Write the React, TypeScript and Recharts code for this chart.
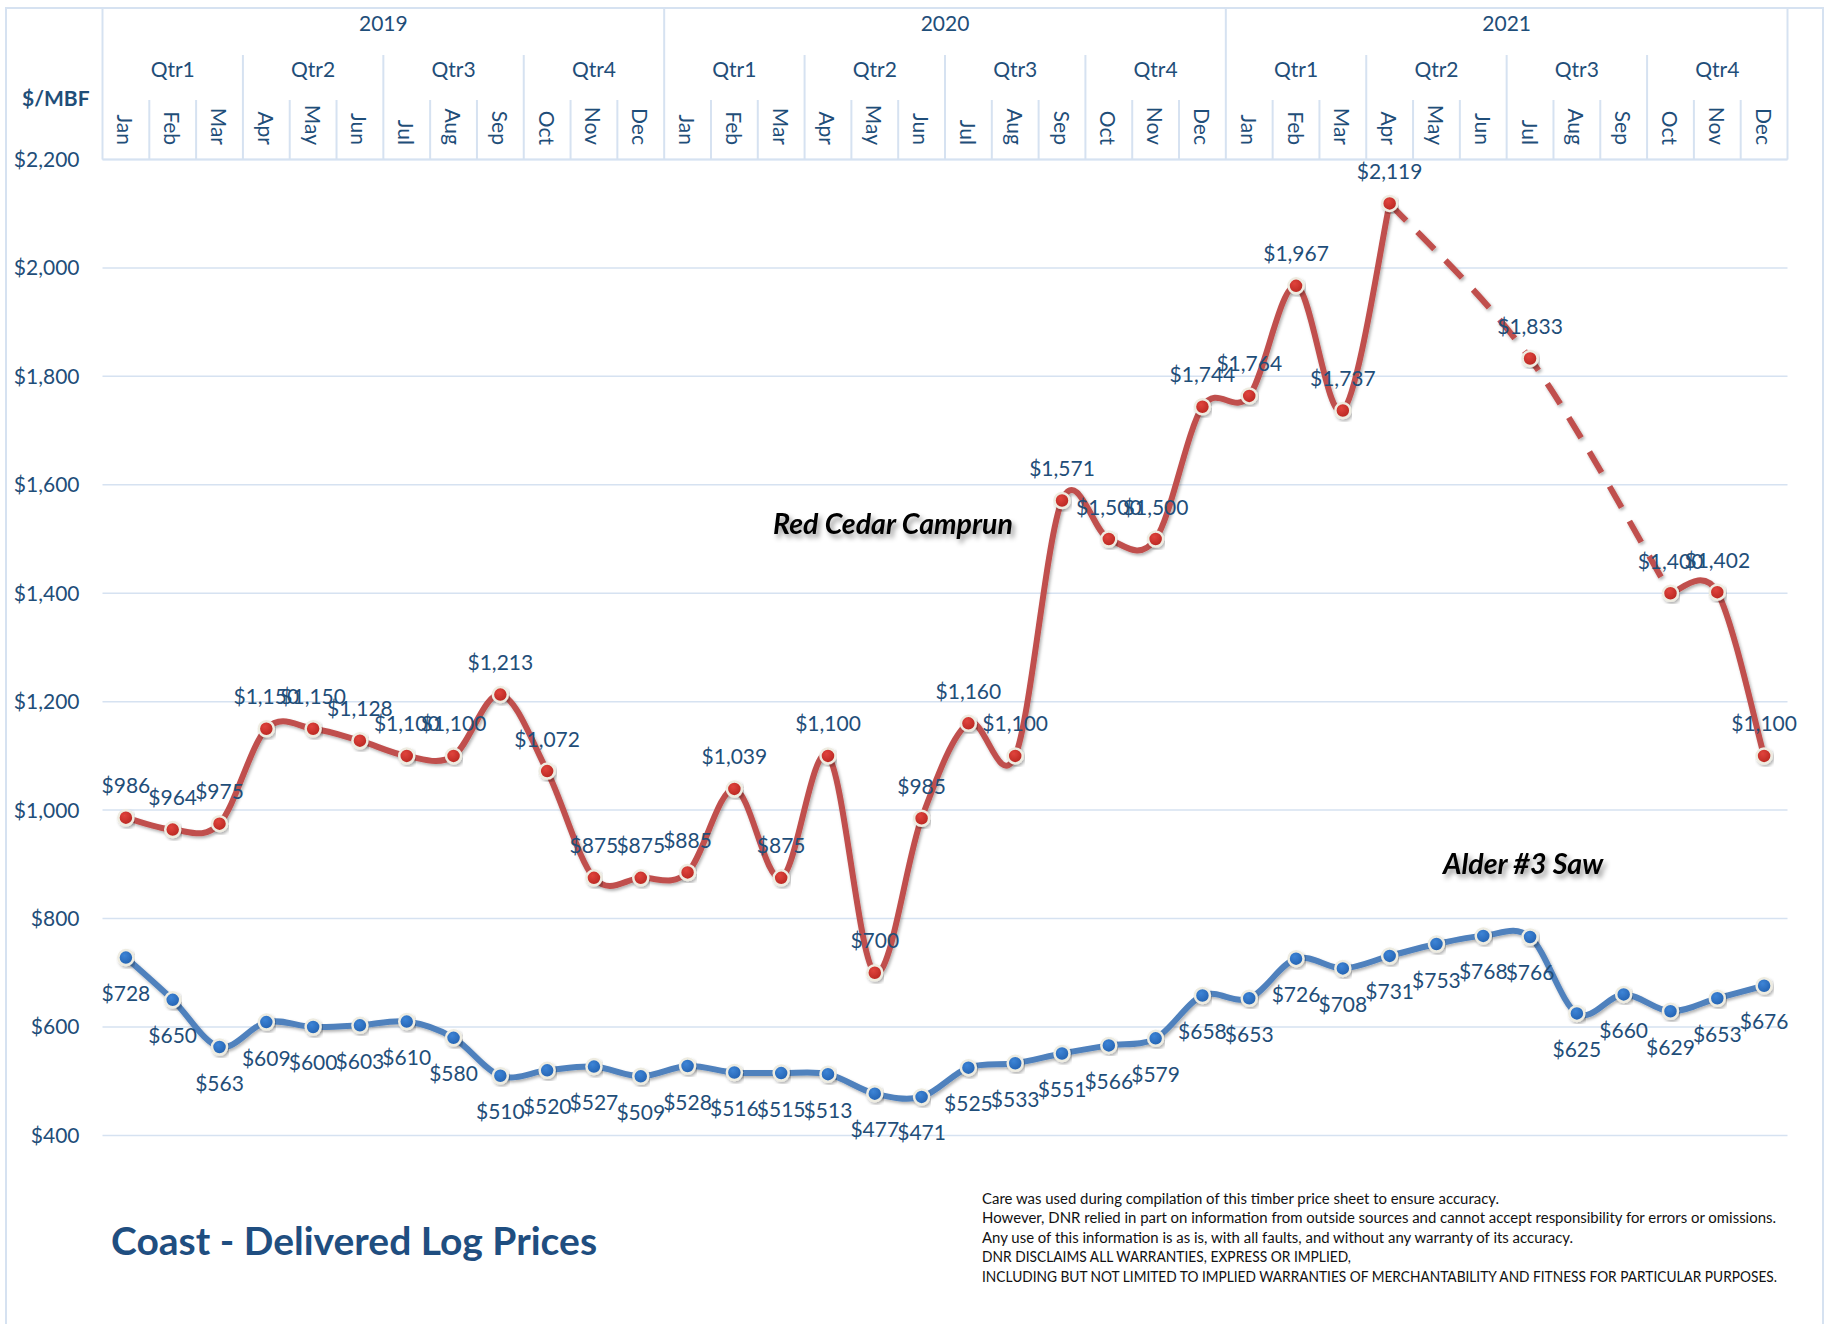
import React from 'react';
import { LineChart, Line, XAxis, YAxis, CartesianGrid, LabelList } from 'recharts';

// ---- data ----
const years = ['2019', '2020', '2021'];
const quarters = ['Qtr1', 'Qtr2', 'Qtr3', 'Qtr4'];
const months = ['Jan', 'Feb', 'Mar', 'Apr', 'May', 'Jun', 'Jul', 'Aug', 'Sep', 'Oct', 'Nov', 'Dec'];

const redCedar: (number | null)[] = [
    986, 964, 975, 1150, 1150, 1128, 1100, 1100, 1213, 1072, 875, 875,
    885, 1039, 875, 1100, 700, 985, 1160, 1100, 1571, 1500, 1500, 1744,
    1764, 1967, 1737, 2119, null, null, 1833, null, null, 1400, 1402, 1100,
];
const alder: number[] = [
    728, 650, 563, 609, 600, 603, 610, 580, 510, 520, 527, 509,
    528, 516, 515, 513, 477, 471, 525, 533, 551, 566, 579, 658,
    653, 726, 708, 731, 753, 768, 766, 625, 660, 629, 653, 676,
];
// months where the red series is bridged by the dashed line
const redGapLinkIdx = [27, 30, 33];

const yTicks = [400, 600, 800, 1000, 1200, 1400, 1600, 1800, 2000, 2200];

const disclaimer = [
    'Care was used during compilation of this timber price sheet to ensure accuracy.',
    'However, DNR relied in part on information from outside sources and cannot accept responsibility for errors or omissions.',
    'Any use of this information is as is, with all faults, and without any warranty of its accuracy.',
    'DNR DISCLAIMS ALL WARRANTIES, EXPRESS OR IMPLIED,',
    'INCLUDING BUT NOT LIMITED TO IMPLIED WARRANTIES OF MERCHANTABILITY AND FITNESS FOR PARTICULAR PURPOSES.',
];
const disclaimerWidths = [517, 794, 591, 369, 795];

const data = alder.map((a, i) => ({
    i,
    month: months[i % 12],
    red: redCedar[i],
    redLink: redGapLinkIdx.includes(i) ? redCedar[i] : null,
    alder: a,
}));

// ---- layout ----
const W = 1826;
const H = 1324;
const PLOT_LEFT = 102.5;
const PLOT_RIGHT = 1787.5;
const PLOT_TOP = 159.5;
const PLOT_BOTTOM = 1135.4;
const BAND = (PLOT_RIGHT - PLOT_LEFT) / 36;
const TXT = '#1f4e79';
const GRID = '#d6e2f1';
const FONT = 'Lato, "Open Sans", sans-serif';

const money = (v: number) => '$' + v.toLocaleString('en-US');

// Excel-like smoothed line (cardinal spline, tension 0)
const excelSmooth: any = (context: any) => {
    let pts: number[][] = [];
    return {
        areaStart() {},
        areaEnd() {},
        lineStart() { pts = []; },
        lineEnd() {
            const n = pts.length;
            if (!n) return;
            context.moveTo(pts[0][0], pts[0][1]);
            for (let k = 0; k < n - 1; k++) {
                const p0 = pts[Math.max(k - 1, 0)];
                const p1 = pts[k];
                const p2 = pts[k + 1];
                const p3 = pts[Math.min(k + 2, n - 1)];
                context.bezierCurveTo(
                    p1[0] + (p2[0] - p0[0]) / 6, p1[1] + (p2[1] - p0[1]) / 6,
                    p2[0] - (p3[0] - p1[0]) / 6, p2[1] - (p3[1] - p1[1]) / 6,
                    p2[0], p2[1]
                );
            }
        },
        point(x: number, y: number) { pts.push([+x, +y]); },
    };
};

function HeaderTick(props: any) {
    const { x, index } = props;
    const left = x - BAND / 2;
    const yTop = index % 12 === 0 ? 7 : index % 3 === 0 ? 55 : 100;
    return (
        <g>
            <line x1={left} x2={left} y1={yTop} y2={PLOT_TOP} stroke={GRID} strokeWidth={2} />
            {index === 35 && (
                <line x1={x + BAND / 2} x2={x + BAND / 2} y1={7} y2={PLOT_TOP} stroke={GRID} strokeWidth={2} />
            )}
            {index % 12 === 5 && (
                <text x={x + BAND / 2} y={22} textAnchor="middle" dominantBaseline="central"
                    fontFamily={FONT} fontSize={21} fill={TXT}>{years[Math.floor(index / 12)]}</text>
            )}
            {index % 3 === 1 && (
                <text x={x} y={68} textAnchor="middle" dominantBaseline="central"
                    fontFamily={FONT} fontSize={21} fill={TXT}>{quarters[Math.floor((index % 12) / 3)]}</text>
            )}
            <text x={x} y={145} transform={`rotate(90 ${x} 145)`} textAnchor="end" dominantBaseline="central"
                fontFamily={FONT} fontSize={21} fill={TXT}>{months[index % 12]}</text>
        </g>
    );
}

const makeLabel = (dy: number) => (props: any) => {
    const { x, y, value } = props;
    if (value == null || x == null || y == null) return null;
    return (
        <text x={x} y={y + dy} textAnchor="middle" dominantBaseline="central"
            fontFamily={FONT} fontSize={21} fill={TXT}>{money(value)}</text>
    );
};

export default function App() {
    return (
        <div style={{ position: 'absolute', left: 0, top: 0, width: W, height: H, background: '#fff', overflow: 'hidden' }}>
            <svg width={0} height={0} style={{ position: 'absolute' }}>
                <defs>
                    <filter id="lineShadow" x="-10%" y="-10%" width="120%" height="130%">
                        <feDropShadow dx="1.5" dy="2" stdDeviation="1.5" floodColor="#000" floodOpacity="0.3" />
                    </filter>
                    <filter id="textShadow" x="-10%" y="-30%" width="130%" height="180%">
                        <feDropShadow dx="3" dy="4" stdDeviation="2.5" floodColor="#000" floodOpacity="0.4" />
                    </filter>
                    <radialGradient id="redDot" cx="40%" cy="35%" r="70%">
                        <stop offset="0%" stopColor="#e0443c" />
                        <stop offset="100%" stopColor="#b5241f" />
                    </radialGradient>
                    <radialGradient id="blueDot" cx="40%" cy="35%" r="70%">
                        <stop offset="0%" stopColor="#3d84d6" />
                        <stop offset="100%" stopColor="#215fae" />
                    </radialGradient>
                </defs>
            </svg>
            <div style={{ position: 'absolute', left: 5, top: 7, width: 1815, height: 1330, border: `2px solid ${GRID}` }} />
            <div style={{ position: 'absolute', left: 0, top: 0 }}>
                <LineChart width={W} height={H} data={data}
                    margin={{ top: PLOT_TOP - 155, left: PLOT_LEFT - 95, right: W - PLOT_RIGHT, bottom: H - PLOT_BOTTOM }}>
                    <CartesianGrid vertical={false} stroke={GRID} strokeWidth={1.5} />
                    <XAxis dataKey="i" type="number" orientation="top" height={155}
                        domain={[-0.5, 35.5]} ticks={data.map(d => d.i)} interval={0}
                        allowDataOverflow tickLine={false} axisLine={{ stroke: GRID, strokeWidth: 2 }}
                        tick={<HeaderTick />} />
                    <YAxis width={95} domain={[400, 2200]} ticks={yTicks} tickFormatter={money}
                        axisLine={false} tickLine={false} tickSize={0} tickMargin={23}
                        tick={{ fontFamily: FONT, fontSize: 21, fill: TXT }} />
                    <Line dataKey="redLink" type={excelSmooth} connectNulls stroke="#c0504d" strokeWidth={6}
                        strokeDasharray="24 16" dot={false} isAnimationActive={false} filter="url(#lineShadow)" />
                    <Line dataKey="red" type={excelSmooth} stroke="#c0504d" strokeWidth={6}
                        dot={{ r: 7.5, fill: 'url(#redDot)', stroke: '#eeece1', strokeWidth: 2.5, filter: 'url(#lineShadow)' }}
                        activeDot={false} isAnimationActive={false} filter="url(#lineShadow)">
                        <LabelList dataKey="red" content={makeLabel(-33)} />
                    </Line>
                    <Line dataKey="alder" type={excelSmooth} stroke="#4f81bd" strokeWidth={6}
                        dot={{ r: 7.5, fill: 'url(#blueDot)', stroke: '#eeece1', strokeWidth: 2.5, filter: 'url(#lineShadow)' }}
                        activeDot={false} isAnimationActive={false} filter="url(#lineShadow)">
                        <LabelList dataKey="alder" content={makeLabel(35)} />
                    </Line>
                </LineChart>
            </div>
            <svg width={W} height={H} style={{ position: 'absolute', left: 0, top: 0, pointerEvents: 'none' }}>
                <text x={22} y={97} dominantBaseline="central" fontFamily={FONT} fontWeight={700} fontSize={21} fill={TXT}>$/MBF</text>
                <text x={773} y={534} fontFamily={FONT} fontWeight={700} fontStyle="italic" fontSize={28.5} fill="#000"
                    filter="url(#textShadow)">Red Cedar Camprun</text>
                <text x={1443} y={874} fontFamily={FONT} fontWeight={700} fontStyle="italic" fontSize={28.5} fill="#000"
                    filter="url(#textShadow)">Alder #3 Saw</text>
                <text x={111} y={1255} fontFamily={FONT} fontWeight={700} fontSize={39} fill="#1f4e80">Coast - Delivered Log Prices</text>
                {disclaimer.map((line, k) => (
                    <text key={k} x={982} y={1198 + k * 19.5} dominantBaseline="central" fontFamily={FONT} fontSize={14.5}
                        fill="#111" textLength={disclaimerWidths[k]} lengthAdjust="spacingAndGlyphs">{line}</text>
                ))}
            </svg>
        </div>
    );
}
